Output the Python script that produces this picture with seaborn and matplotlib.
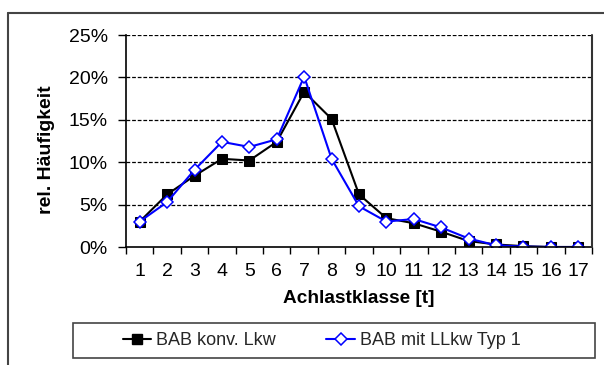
import matplotlib
matplotlib.use("Agg")
import matplotlib.pyplot as plt
import seaborn as sns
import pandas as pd
import numpy as np
from matplotlib.lines import Line2D
from matplotlib.patches import Rectangle
from matplotlib.ticker import FixedLocator, PercentFormatter

classes = list(range(1, 18))
konv = [3.0, 6.2, 8.4, 10.4, 10.2, 12.4, 18.3, 15.1, 6.2, 3.4, 2.8, 1.8, 0.7, 0.3, 0.1, 0.0, 0.0]
llkw = [3.0, 5.3, 9.1, 12.4, 11.8, 12.7, 20.1, 10.4, 4.8, 3.0, 3.3, 2.3, 1.0, 0.2, 0.05, 0.0, 0.0]
series_names = ["BAB konv. Lkw", "BAB mit LLkw Typ 1"]
yticks = [0, 5, 10, 15, 20, 25]

df = pd.DataFrame({
    "klasse": classes * 2,
    "wert": konv + llkw,
    "serie": [series_names[0]] * len(classes) + [series_names[1]] * len(classes),
})

sns.set_theme(style="white")
plt.rcParams["font.family"] = ["Liberation Sans", "DejaVu Sans"]

fig = plt.figure(figsize=(6.04, 3.65), dpi=100)
ax = fig.add_axes([126/604, 1-247/365, (592-126)/604, (247-35)/365])

sns.lineplot(data=df, x="klasse", y="wert", hue="serie", style="serie",
             palette={series_names[0]: "black", series_names[1]: "#0000FF"},
             markers={series_names[0]: "s", series_names[1]: "D"},
             dashes=False, linewidth=1.5, ax=ax, legend=False)

lines = ax.get_lines()
l0, l1 = lines[0], lines[1]
l0.set_markersize(7); l0.set_markerfacecolor("black"); l0.set_markeredgecolor("black")
l1.set_markersize(6.5); l1.set_markerfacecolor("white"); l1.set_markeredgecolor("#0000FF")
l1.set_markeredgewidth(1.1)

ax.set_xlim(0.5, 17.5)
ax.set_ylim(0, 25)
ax.set_yticks(yticks)
ax.yaxis.set_major_formatter(PercentFormatter(decimals=0))
ax.set_xticks(classes)
ax.set_xticklabels([str(c) for c in classes])
ax.xaxis.set_minor_locator(FixedLocator(np.arange(0.5, 18, 1.0)))
ax.tick_params(axis="x", which="major", length=0, pad=11.5, labelsize=14, colors="black")
ax.tick_params(axis="x", which="minor", length=5, width=1, direction="out", bottom=True, color="black")
ax.tick_params(axis="y", which="major", length=6, width=1, direction="out", left=True, pad=7, labelsize=14, colors="black")

for y in yticks[1:]:
    ax.axhline(y, color="black", linestyle=(0, (3, 1.5)), linewidth=0.9, zorder=0)

ax.spines["left"].set_color("black"); ax.spines["left"].set_linewidth(1.2)
ax.spines["bottom"].set_color("black"); ax.spines["bottom"].set_linewidth(1.2)
ax.spines["top"].set_visible(False)
ax.spines["right"].set_visible(False)
ax.add_artist(Line2D([1.0, 1.0], [0.0, 1.0], transform=ax.transAxes, color="#333333",
                     linewidth=1.5, clip_on=False, zorder=6))

ax.set_xlabel("Achlastklasse [t]", fontsize=13.7, fontweight="bold", color="black")
ax.xaxis.set_label_coords(0.5, (247-290)/212)
ax.set_ylabel("rel. Häufigkeit", fontsize=14, fontweight="bold", color="black")
ax.yaxis.set_label_coords((55-126)/466, (247-150)/212)

handles = [
    Line2D([], [], color="black", lw=1.5, marker="s", markersize=6.5, markerfacecolor="black"),
    Line2D([], [], color="#0000FF", lw=1.5, marker="D", markersize=6, markerfacecolor="white",
           markeredgecolor="#0000FF", markeredgewidth=1.1),
]
fig.legend(handles, series_names, loc="center", bbox_to_anchor=(321.5/604, 1-340.5/365),
           ncol=2, frameon=False, fontsize=13, handlelength=1.6, handletextpad=0.25,
           columnspacing=2.8)
fig.patches.append(Rectangle((73/604, 1-358/365), (595-73)/604, 35/365, transform=fig.transFigure,
                             fill=False, edgecolor="#444444", linewidth=1.2))
fig.add_artist(Line2D([8/604, 1.0], [1-13/365, 1-13/365], transform=fig.transFigure,
                      color="#444444", linewidth=1.5))
fig.add_artist(Line2D([8/604, 8/604], [0.0, 1-13/365], transform=fig.transFigure,
                      color="#444444", linewidth=1.5))

fig.savefig("out.png", dpi=100)
